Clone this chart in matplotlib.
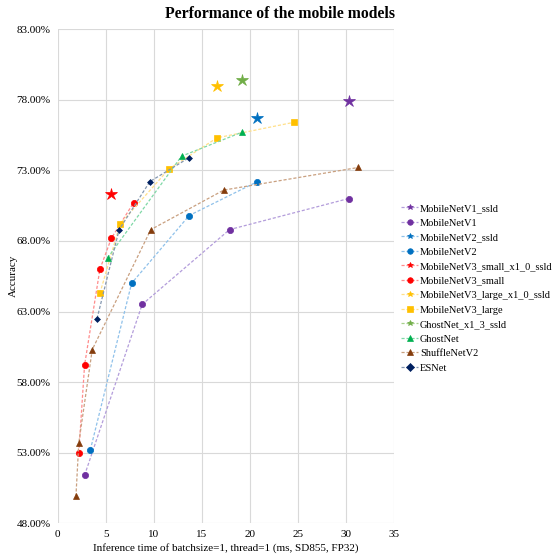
import matplotlib.pyplot as plt
from matplotlib.ticker import FuncFormatter

plt.rcParams['font.family'] = ['Liberation Serif', 'DejaVu Serif']

# inference time (ms) and top-1 accuracy (%)
v1_ssld_x = [30.3]
v1_ssld_y = [77.9]
v1_x = [2.8, 8.8, 17.9, 30.3]
v1_y = [51.4, 63.5, 68.8, 71.0]
v2_ssld_x = [20.8]
v2_ssld_y = [76.7]
v2_x = [3.4, 7.7, 13.7, 20.8]
v2_y = [53.2, 65.0, 69.8, 72.2]
v3s_ssld_x = [5.6]
v3s_ssld_y = [71.3]
v3s_x = [2.2, 2.8, 4.4, 5.6, 7.9]
v3s_y = [53.0, 59.2, 66.0, 68.2, 70.7]
v3l_ssld_x = [16.6]
v3l_ssld_y = [79.0]
v3l_x = [4.4, 6.5, 11.6, 16.6, 24.6]
v3l_y = [64.3, 69.2, 73.1, 75.3, 76.4]
ghost_ssld_x = [19.2]
ghost_ssld_y = [79.4]
ghost_x = [5.2, 12.9, 19.2]
ghost_y = [66.8, 74.0, 75.7]
shuffle_x = [1.9, 2.2, 3.6, 9.7, 17.3, 31.3]
shuffle_y = [49.9, 53.7, 60.3, 68.8, 71.6, 73.2]
esnet_x = [4.1, 6.4, 9.6, 13.7]
esnet_y = [62.5, 68.8, 72.2, 73.9]

series = [
    ("MobileNetV1_ssld", v1_ssld_x, v1_ssld_y, '*', '#7030A0', '#B39DDB', 9),
    ("MobileNetV1", v1_x, v1_y, 'o', '#7030A0', '#B39DDB', 4.5),
    ("MobileNetV2_ssld", v2_ssld_x, v2_ssld_y, '*', '#0070C0', '#8FC1EA', 9),
    ("MobileNetV2", v2_x, v2_y, 'o', '#0070C0', '#8FC1EA', 4.5),
    ("MobileNetV3_small_x1_0_ssld", v3s_ssld_x, v3s_ssld_y, '*', '#FF0000', '#FF8C8C', 9),
    ("MobileNetV3_small", v3s_x, v3s_y, 'o', '#FF0000', '#FF8C8C', 4.5),
    ("MobileNetV3_large_x1_0_ssld", v3l_ssld_x, v3l_ssld_y, '*', '#FFC000', '#FFE08A', 9),
    ("MobileNetV3_large", v3l_x, v3l_y, 's', '#FFC000', '#FFE08A', 4.5),
    ("GhostNet_x1_3_ssld", ghost_ssld_x, ghost_ssld_y, '*', '#70AD47', '#A9D18E', 9),
    ("GhostNet", ghost_x, ghost_y, '^', '#00B050', '#7FD8A6', 4.5),
    ("ShuffleNetV2", shuffle_x, shuffle_y, '^', '#843C0C', '#C9A080', 4.5),
    ("ESNet", esnet_x, esnet_y, 'D', '#002060', '#8497B0', 3),
]

fig = plt.figure(figsize=(5.6, 5.6), dpi=100)
ax = fig.add_axes([0.103, 0.0655, 0.6, 0.8825])

for name, xs, ys, mk, c, lc, ms in series:
    ax.plot(xs, ys, linestyle=(0, (2.5, 1.5)), linewidth=0.9, color=lc,
            marker=mk, markersize=ms, markerfacecolor=c, markeredgecolor=c,
            markeredgewidth=0.5, label=name)

ax.set_xlim(0, 35)
ax.set_ylim(48, 83)
ax.set_xticks(range(0, 36, 5))
ax.set_yticks([48, 53, 58, 63, 68, 73, 78, 83])
ax.yaxis.set_major_formatter(FuncFormatter(lambda v, p: '%.2f%%' % v))
ax.grid(True, color='#D9D9D9', linewidth=0.8)
ax.set_axisbelow(True)
for s in ax.spines.values():
    s.set_visible(False)
ax.tick_params(length=0, labelsize=8, pad=5)

ax.set_xlabel("Inference time of batchsize=1, thread=1 (ms, SD855, FP32)", fontsize=8, labelpad=3)
ax.set_ylabel("Accuracy", fontsize=8, labelpad=-1)
fig.suptitle("Performance of the mobile models", fontsize=11.3, fontweight='bold', y=0.99)

leg = ax.legend(loc='upper left', bbox_to_anchor=(1.01, 0.655), frameon=False,
                fontsize=7.5, handlelength=1.6, handletextpad=0.2, labelspacing=0.5,
                borderaxespad=0)
for h in leg.legend_handles:
    h.set_markersize(4)

fig.savefig("out.png", dpi=100)
